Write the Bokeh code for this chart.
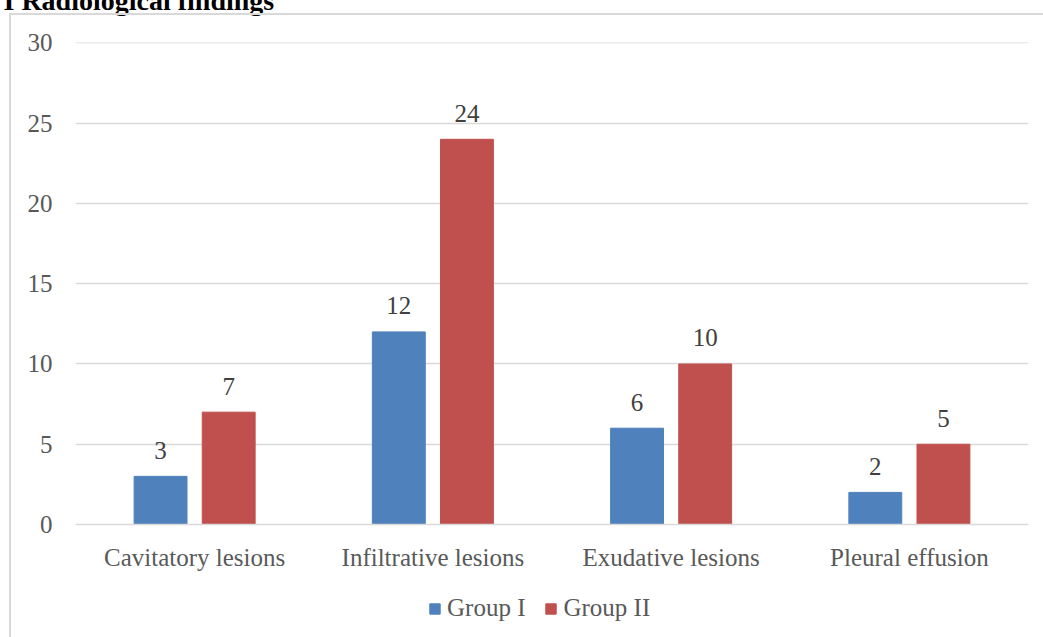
from bokeh.plotting import figure
from bokeh.layouts import column
from bokeh.models import (ColumnDataSource, Range1d, FactorRange, Legend, LegendItem, Label,
                          SingleIntervalTicker, InlineStyleSheet)
from bokeh.transform import dodge
from bokeh.core.properties import value
from bokeh.embed import file_html
from bokeh.resources import INLINE

categories = ["Cavitatory lesions", "Infiltrative lesions", "Exudative lesions", "Pleural effusion"]
group1 = [3, 12, 6, 2]
group2 = [7, 24, 10, 5]
series_names = ["Group I", "Group II"]
title_text = "I Radiological findings"

BLUE = "#4F81BD"
RED = "#C0504D"
FONT = "Liberation Serif"

src = ColumnDataSource(dict(
    cat=categories,
    g1=group1,
    g2=group2,
    g1s=[str(v) for v in group1],
    g2s=[str(v) for v in group2],
))

# ---------------- main chart ----------------
p = figure(width=1043, height=577, x_range=FactorRange(*categories), y_range=Range1d(0, 30.03),
           output_backend="svg", toolbar_location=None, title=None,
           min_border_left=75, min_border_right=15, min_border_top=42, min_border_bottom=53)
p.outline_line_color = None
p.background_fill_color = "white"
p.border_fill_color = "white"
p.x_range.range_padding = 0
p.x_range.factor_padding = 0

r1 = p.vbar(x=dodge("cat", -0.143, range=p.x_range), top="g1", width=0.222, source=src,
            fill_color=BLUE, line_color=BLUE)
r2 = p.vbar(x=dodge("cat", 0.143, range=p.x_range), top="g2", width=0.222, source=src,
            fill_color=RED, line_color=RED)

p.text(x=dodge("cat", -0.143, range=p.x_range), y="g1", text="g1s", source=src,
       text_align="center", text_baseline="alphabetic", y_offset=-26,
       text_font=value(FONT), text_font_size="25px", text_color="#404040")
p.text(x=dodge("cat", 0.143, range=p.x_range), y="g2", text="g2s", source=src,
       text_align="center", text_baseline="alphabetic", y_offset=-26,
       text_font=value(FONT), text_font_size="25px", text_color="#404040")

p.yaxis.ticker = SingleIntervalTicker(interval=5)
p.yaxis.axis_line_color = None
p.yaxis.major_tick_line_color = None
p.yaxis.minor_tick_line_color = None
p.yaxis.major_label_standoff = 17
p.yaxis.major_label_text_font = FONT
p.yaxis.major_label_text_font_size = "25px"
p.yaxis.major_label_text_color = "#595959"

p.xaxis.axis_line_color = "#d9d9d9"
p.xaxis.axis_line_width = 1.5
p.xaxis.major_tick_line_color = None
p.xaxis.minor_tick_line_color = None
p.xaxis.major_label_standoff = 13
p.xaxis.major_label_text_font = FONT
p.xaxis.major_label_text_font_size = "25px"
p.xaxis.major_label_text_color = "#595959"

p.xgrid.grid_line_color = None
p.ygrid.grid_line_color = "#d9d9d9"
p.ygrid.grid_line_width = 1.5

title = Label(x=-72, y=42, x_units="screen", y_units="screen", text=title_text,
              text_font=FONT, text_font_style="bold", text_font_size="28px",
              text_color="black", text_baseline="alphabetic")
p.add_layout(title, "above")

# ---------------- legend strip ----------------
# the series glyphs are drawn again here only to key the legend; the y range keeps them far out of view
p2 = figure(width=1043, height=60, output_backend="svg", toolbar_location=None,
            x_range=FactorRange(*categories), y_range=Range1d(1000, 1001),
            x_axis_type=None, y_axis_type=None, min_border=0)
p2.outline_line_color = None
p2.background_fill_color = "white"
p2.border_fill_color = "white"
d1 = p2.vbar(x="cat", top="g1", width=0.2, source=src, fill_color=BLUE, line_color=BLUE)
d2 = p2.vbar(x="cat", top="g2", width=0.2, source=src, fill_color=RED, line_color=RED)
legend = Legend(items=[LegendItem(label=series_names[0], renderers=[d1]),
                       LegendItem(label=series_names[1], renderers=[d2])],
                orientation="horizontal", location=(353, 15),
                border_line_color=None, background_fill_alpha=0, padding=0, margin=0,
                spacing=19, label_standoff=6, glyph_width=13, glyph_height=13,
                label_text_font=FONT, label_text_font_size="25px", label_text_color="#595959")
p2.add_layout(legend)

layout = column(p, p2, spacing=0)
layout.stylesheets = [InlineStyleSheet(css="""
:host { position: relative; }
:host::after {
  content: "";
  position: absolute;
  left: 9px; top: 13px;
  width: 1034px; height: 624px;
  border-left: 2px solid #d9d9d9;
  border-top: 2px solid #d9d9d9;
  box-sizing: border-box;
  pointer-events: none;
}
""")]

open("out.html", "w").write(file_html(layout, INLINE))
